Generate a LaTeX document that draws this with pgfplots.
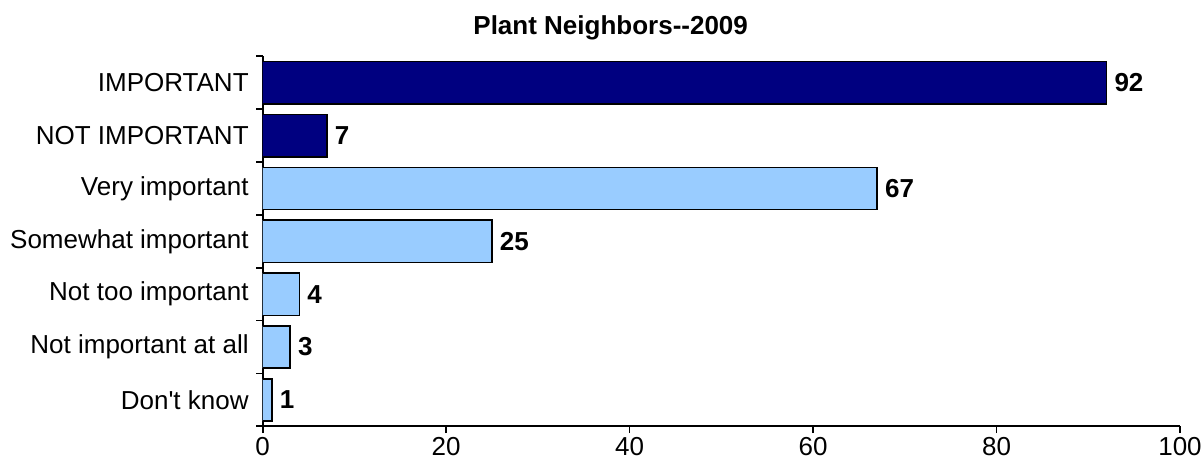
\documentclass[border=0pt]{standalone}
\usepackage{fontspec}
\setmainfont{Liberation Sans}
\usepackage{pgfplots}
\pgfplotsset{compat=1.18}
\definecolor{navybar}{HTML}{000080}
\definecolor{lightbar}{HTML}{99CCFF}

\begin{document}
\begin{tikzpicture}
\useasboundingbox (0,0) rectangle (902.25pt,348.75pt);
\begin{axis}[
  at={(197pt,29pt)}, anchor=south west,
  scale only axis, width=688pt, height=277.5pt,
  xbar, bar shift=0pt, bar width=0.8,
  xmin=0, xmax=100, ymin=-0.5, ymax=6.5,
  y dir=reverse,
  axis x line*=bottom, axis y line*=left,
  axis line style={line width=1.6pt, -},
  xtick={0,20,...,100},
  ytick={0,...,6},
  yticklabels={IMPORTANT, NOT IMPORTANT, Very important, Somewhat important,
    Not too important, Not important at all, Don\textquotesingle t know},
  minor ytick={-0.5,0.5,...,6.5},
  tick align=outside,
  major tick length=5pt, minor tick length=5pt,
  major y tick style={draw=none},
  minor y tick style={line width=1.3pt, black},
  major x tick style={line width=1.3pt, black},
  ticklabel style={font=\fontsize{19.5}{22}\selectfont},
  yticklabel style={xshift=-2pt},
  /pgf/number format/assume math mode=true,
  point meta=x,
  nodes near coords,
  nodes near coords style={text=black, font=\bfseries\fontsize{19.5}{22}\selectfont, xshift=2pt},
]
\addplot[fill=navybar, draw=black, line width=1.2pt] coordinates {(92,0) (7,1)};
\addplot[fill=lightbar, draw=black, line width=1.2pt] coordinates {(67,2) (25,3) (4,4) (3,5) (1,6)};
\end{axis}
\node[font=\bfseries\fontsize{19.5}{22}\selectfont] at (458pt,328pt) {Plant Neighbors{-}{-}2009};
\end{tikzpicture}
\end{document}
